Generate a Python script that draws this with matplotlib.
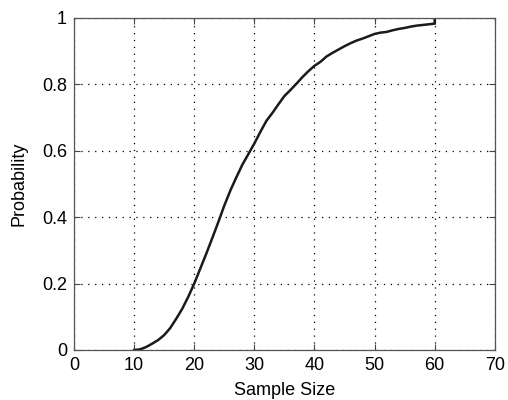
import matplotlib
matplotlib.use("Agg")
import matplotlib.pyplot as plt

sample_size = [10, 11, 12, 13, 14, 15, 16, 17, 18, 19, 20, 21, 22, 23, 24, 25, 26, 27, 28, 29,
               30, 31, 32, 33, 34, 35, 36, 37, 38, 39, 40, 41, 42, 43, 44, 45, 46, 47, 48, 49,
               50, 51, 52, 53, 54, 55, 56, 57, 58, 59, 60, 60]
probability = [0.0, 0.002, 0.009, 0.019, 0.03, 0.045, 0.066, 0.094, 0.124, 0.16, 0.2, 0.245,
               0.29, 0.337, 0.385, 0.435, 0.48, 0.52, 0.558, 0.59, 0.622, 0.657, 0.69, 0.714,
               0.74, 0.765, 0.783, 0.802, 0.822, 0.84, 0.856, 0.868, 0.884, 0.895, 0.905, 0.915,
               0.924, 0.932, 0.938, 0.945, 0.952, 0.956, 0.958, 0.963, 0.967, 0.97, 0.974,
               0.977, 0.979, 0.981, 0.983, 1.0]
xticks = [0, 10, 20, 30, 40, 50, 60, 70]
yticks = [0, 0.2, 0.4, 0.6, 0.8, 1]
ytick_labels = ["0", "0.2", "0.4", "0.6", "0.8", "1"]

plt.rcParams['font.family'] = ['Liberation Sans', 'DejaVu Sans']
fig = plt.figure(figsize=(5.08, 4.0), dpi=100)
ax = fig.add_axes([0.1457, 0.125, 0.8283, 0.83])
ax.plot(sample_size, probability, color='#1a1a1a', lw=1.8)
ax.set_xlim(0, 70)
ax.set_ylim(0, 1)
ax.set_xticks(xticks)
ax.set_yticks(yticks)
ax.set_yticklabels(ytick_labels)
ax.grid(True, linestyle=(0, (1, 4.5)), color='black', lw=0.9)
ax.tick_params(direction='in', top=True, right=True, labelsize=13, length=4,
               color='#444444', pad=5)
for s in ax.spines.values():
    s.set_color('#555555')
    s.set_linewidth(0.9)
ax.set_xlabel('Sample Size', fontsize=13)
ax.set_ylabel('Probability', fontsize=13)
ax.xaxis.set_label_coords(0.5, (350 - 390.5) / 332)
ax.xaxis.label.set_va('center')
ax.yaxis.set_label_coords((18.5 - 74) / 421, 0.5)
ax.yaxis.label.set_va('center')
fig.savefig('out.png', dpi=100)
